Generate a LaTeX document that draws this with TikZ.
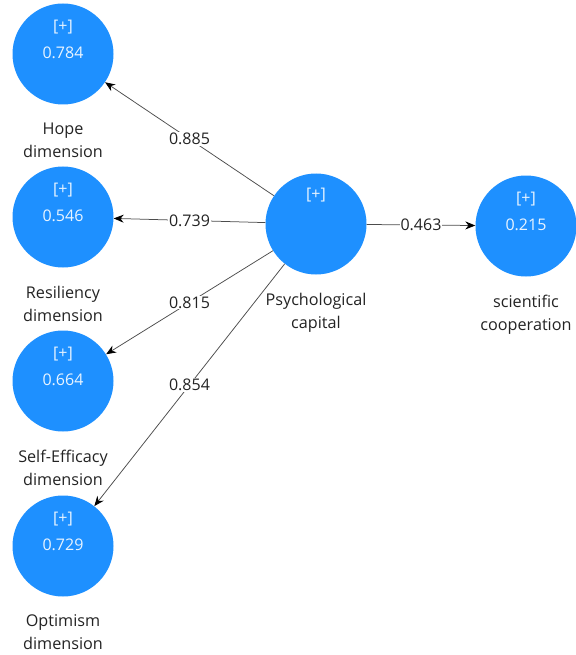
\documentclass[tikz,border=0pt]{standalone}
\usepackage{fontspec}
\setmainfont{Open Sans}
\usetikzlibrary{arrows.meta,positioning}

\definecolor{lvblue}{RGB}{30,144,255}
\definecolor{lvtext}{RGB}{232,244,255}
\definecolor{txtgray}{RGB}{35,35,35}

\begin{document}
\begin{tikzpicture}[x=1pt,y=1pt,
  >={Stealth[length=10pt,width=8pt,black]},
  lv/.style={
  % The shape:
  circle,
  % The size:
  minimum size=101pt,
  inner sep=0pt,
  % The filling:
  fill=lvblue
  },
  lvtxt/.style={
  % text inside a circle, a bit above its centre
  align=center,
  inner sep=0pt,
  text=lvtext,
  font=\fontsize{16}{27}\selectfont,
  yshift=15pt
  },
  lvname/.style={
  % caption under a circle
  align=center,
  inner sep=0pt,
  text=txtgray,
  font=\fontsize{16.2}{23}\selectfont
  },
  lvpath/.style={
  draw=black!70,
  line width=0.75pt
  },
  coef/.style={
  fill=white,
  inner sep=1pt,
  text=txtgray,
  font=\fontsize{16}{18}\selectfont
  }]
  \useasboundingbox (0,0) rectangle (575,-655);

  \node (hope) [lv] at (63,-54) {};
  \node (res) [lv] at (63,-217) {};
  \node (self) [lv] at (63,-381) {};
  \node (opt) [lv] at (63,-546) {};
  \node (cap) [lv] at (316,-224) {};
  \node (sci) [lv] at (526,-226) {};

  \node (hopeV) [lvtxt] at (hope) {[+]\\0.784};
  \node (resV) [lvtxt] at (res) {[+]\\0.546};
  \node (selfV) [lvtxt] at (self) {[+]\\0.664};
  \node (optV) [lvtxt] at (opt) {[+]\\0.729};
  \node (capV) [lvtxt,yshift=14pt] at (cap) {[+]};
  \node (sciV) [lvtxt] at (sci) {[+]\\0.215};

  \node (hopeN) [lvname,below=18pt of hope] {Hope\\dimension};
  \node (resN) [lvname,below=18pt of res] {Resiliency\\dimension};
  \node (selfN) [lvname,below=18pt of self] {Self-Efficacy\\dimension};
  \node (optN) [lvname,below=18pt of opt] {Optimism\\dimension};
  \node (capN) [lvname,below=18pt of cap] {Psychological\\capital};
  \node (sciN) [lvname,below=18pt of sci] {scientific\\cooperation};

  \draw[lvpath,->] (cap) to node[coef] {0.885} (hope);
  \draw[lvpath,->] (cap) to node[coef] {0.739} (res);
  \draw[lvpath,->] (cap) to node[coef] {0.815} (self);
  \draw[lvpath,->] (cap) to node[coef] {0.854} (opt);
  \draw[lvpath,->] (cap) to node[coef] {0.463} (sci);
\end{tikzpicture}
\end{document}
